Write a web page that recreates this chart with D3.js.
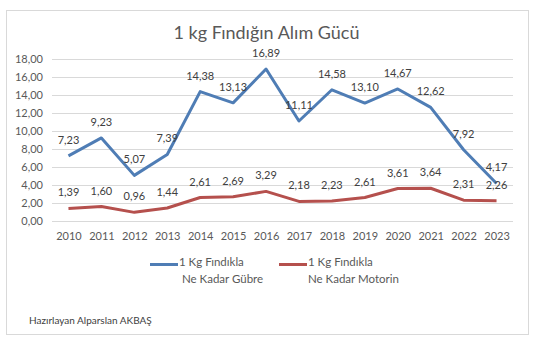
<!DOCTYPE html>
<html>
<head>
<meta charset="utf-8">
<script src="https://cdn.jsdelivr.net/npm/d3@7"></script>
<style>
  html, body { margin: 0; padding: 0; background: #fff; }
  svg { display: block; font-family: Lato, "Open Sans", sans-serif; }
</style>
</head>
<body>
<svg id="chart" width="543" height="342"></svg>
<script>
// Years on the category axis
const years = ["2010","2011","2012","2013","2014","2015","2016","2017","2018","2019","2020","2021","2022","2023"];
// How much fertilizer one kg of hazelnuts buys
const gubre = [7.23, 9.23, 5.07, 7.39, 14.38, 13.13, 16.89, 11.11, 14.58, 13.10, 14.67, 12.62, 7.92, 4.17];
// How much diesel one kg of hazelnuts buys
const motorin = [1.39, 1.60, 0.96, 1.44, 2.61, 2.69, 3.29, 2.18, 2.23, 2.61, 3.61, 3.64, 2.31, 2.26];
// Value axis ticks
const yTicks = [0, 2, 4, 6, 8, 10, 12, 14, 16, 18];
// Legend entries (two lines each)
const legendLabels = [["1 Kg Fındıkla", "Ne Kadar Gübre"], ["1 Kg Fındıkla", "Ne Kadar Motorin"]];
const titleText = "1 kg Fındığın Alım Gücü";
const footerText = "Hazırlayan Alparslan AKBAŞ";

const series = [
  { values: gubre, color: "#4F7DB5" },
  { values: motorin, color: "#B5504D" }
];

const svg = d3.select("#chart");
const fmt = v => d3.format(".2f")(v).replace(".", ",");

// Chart area frame
svg.append("rect")
  .attr("x", 6.5).attr("y", 10.5)
  .attr("width", 522).attr("height", 324)
  .attr("fill", "#fff").attr("stroke", "#D9D9D9").attr("stroke-width", 1);

// Title
svg.append("text")
  .attr("x", 266.5).attr("y", 39)
  .attr("text-anchor", "middle")
  .attr("font-size", 18)
  .attr("fill", "#595959")
  .text(titleText);

const plot = { left: 52, right: 513, top: 59, bottom: 221 };

const x = d3.scalePoint()
  .domain(years)
  .range([plot.left, plot.right])
  .padding(0.5);

const y = d3.scaleLinear()
  .domain([0, 18])
  .range([plot.bottom, plot.top]);

// Horizontal gridlines and value labels
const yAxis = d3.axisLeft(y)
  .tickValues(yTicks)
  .tickSize(-(plot.right - plot.left))
  .tickPadding(9)
  .tickFormat(fmt);

const gy = svg.append("g")
  .attr("transform", `translate(${plot.left},0)`)
  .call(yAxis);
gy.select(".domain").remove();
gy.selectAll(".tick line").attr("stroke", "#D9D9D9").attr("stroke-width", 1);
gy.selectAll(".tick text")
  .attr("font-size", 11)
  .attr("fill", "#595959")
  .attr("font-family", "Lato, sans-serif");

// Category labels
const xAxis = d3.axisBottom(x).tickSize(0).tickPadding(11);
const gx = svg.append("g")
  .attr("transform", `translate(0,${plot.bottom})`)
  .call(xAxis);
gx.select(".domain").remove();
gx.selectAll(".tick text")
  .attr("font-size", 11)
  .attr("fill", "#595959")
  .attr("font-family", "Lato, sans-serif");

// Lines
const line = d3.line()
  .x((d, i) => x(years[i]))
  .y(d => y(d));

series.forEach(s => {
  svg.append("path")
    .datum(s.values)
    .attr("fill", "none")
    .attr("stroke", s.color)
    .attr("stroke-width", 3)
    .attr("stroke-linejoin", "round")
    .attr("d", line);
});

// Data labels above each point
series.forEach(s => {
  svg.append("g")
    .selectAll("text")
    .data(s.values)
    .join("text")
    .attr("x", (d, i) => x(years[i]))
    .attr("y", d => y(d) - 12)
    .attr("text-anchor", "middle")
    .attr("font-size", 11)
    .attr("fill", "#404040")
    .text(d => fmt(d));
});

// Legend
const legendX = [150, 279];
series.forEach((s, i) => {
  const g = svg.append("g").attr("transform", `translate(${legendX[i]},264.5)`);
  g.append("line")
    .attr("x1", 0).attr("x2", 28)
    .attr("y1", 0).attr("y2", 0)
    .attr("stroke", s.color).attr("stroke-width", 3);
  g.append("text")
    .attr("x", 29).attr("y", 1.5)
    .attr("font-size", 11.5).attr("fill", "#595959")
    .text(legendLabels[i][0]);
  g.append("text")
    .attr("x", i === 0 ? 32 : 29).attr("y", 18.5)
    .attr("font-size", 11.5).attr("fill", "#595959")
    .text(legendLabels[i][1]);
});

// Footer credit
svg.append("text")
  .attr("x", 29).attr("y", 324)
  .attr("font-size", 10).attr("fill", "#404040")
  .text(footerText);
</script>
</body>
</html>
